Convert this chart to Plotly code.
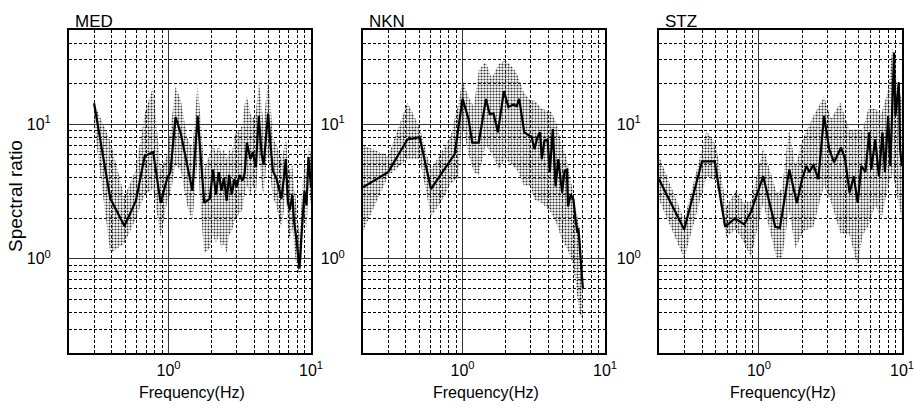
import plotly.graph_objects as go

# ---------------- data ----------------
station_names = ["MED", "NKN", "STZ"]

# MED
med_f = [0.30, 0.39, 0.49, 0.59, 0.68, 0.78, 0.88, 0.98, 1.03, 1.12, 1.22, 1.35, 1.47, 1.60, 1.70,
         1.78, 1.95, 2.05, 2.15, 2.25, 2.35, 2.45, 2.56, 2.66, 2.78, 2.90, 3.00, 3.15, 3.30, 3.42,
         3.55, 3.75, 3.90, 4.10, 4.30, 4.50, 4.65, 4.85, 5.00, 5.20, 5.40, 5.70, 6.00, 6.20, 6.45,
         6.65, 6.90, 7.10, 7.40, 7.60, 7.90, 8.10, 8.30, 8.50, 8.70, 9.00, 9.30, 9.60, 10.0]
med_mean = [14.3, 2.8, 1.75, 2.7, 5.8, 6.2, 2.6, 4.0, 4.4, 11.3, 8.5, 5.0, 3.2, 11.5, 5.0,
            2.6, 2.8, 4.6, 3.0, 4.4, 3.2, 4.0, 2.7, 4.2, 3.0, 3.9, 3.4, 4.2, 3.8, 4.3,
            7.3, 5.5, 6.2, 4.8, 11.5, 6.0, 5.0, 9.0, 12.0, 7.0, 4.5, 4.0, 3.2, 2.8, 4.0,
            5.5, 2.6, 2.3, 3.0, 1.9, 1.4, 1.1, 0.85, 1.3, 2.0, 3.2, 2.5, 5.7, 3.4]
med_hi = [14.3, 7.5, 2.9, 4.6, 12.0, 19.0, 4.6, 6.0, 9.0, 19.0, 15.0, 8.0, 6.5, 20.0, 9.0,
          4.6, 6.0, 7.3, 6.0, 7.0, 6.0, 6.5, 5.5, 6.5, 6.0, 8.0, 9.0, 9.0, 10.0, 14.0,
          16.0, 12.0, 11.0, 12.0, 21.0, 14.0, 10.0, 16.0, 22.0, 14.0, 8.0, 7.0, 6.0, 5.5, 6.5,
          8.0, 5.0, 4.5, 5.0, 3.5, 2.5, 2.0, 1.5, 2.2, 3.5, 5.0, 4.5, 7.0, 6.0]
med_lo = [10.0, 1.1, 1.3, 2.0, 3.0, 3.3, 1.45, 2.7, 3.0, 5.0, 4.5, 2.5, 1.9, 5.5, 2.0,
          1.1, 1.2, 1.5, 1.3, 1.5, 1.2, 1.3, 1.1, 1.5, 1.6, 1.9, 2.0, 2.2, 2.3, 3.0,
          3.5, 3.0, 3.5, 3.0, 6.0, 3.5, 3.0, 5.0, 6.0, 4.0, 2.8, 2.5, 2.0, 1.7, 2.3,
          3.5, 1.6, 1.4, 1.7, 1.2, 0.9, 0.8, 0.75, 0.9, 1.3, 2.0, 1.6, 3.5, 2.5]

# NKN
nkn_f = [0.20, 0.30, 0.41, 0.50, 0.60, 0.88, 1.00, 1.10, 1.17, 1.30, 1.46, 1.55, 1.65, 1.77,
         1.95, 2.10, 2.27, 2.40, 2.50, 2.71, 2.90, 3.05, 3.20, 3.35, 3.50, 3.60, 3.75, 3.95,
         4.10, 4.30, 4.50, 4.70, 5.00, 5.20, 5.40, 5.50, 5.75, 6.00, 6.20, 6.40, 6.50, 6.70,
         6.85, 7.00]
nkn_mean = [3.4, 4.4, 7.7, 8.0, 3.3, 6.0, 15.4, 11.0, 7.3, 7.3, 15.4, 11.9, 12.0, 8.7,
            17.6, 13.4, 14.0, 13.6, 15.4, 8.7, 8.3, 8.1, 6.5, 8.0, 8.7, 5.5, 7.5, 7.7,
            4.4, 9.2, 3.45, 5.5, 3.1, 4.5, 4.6, 2.45, 3.0, 2.75, 2.0, 1.56, 1.7, 1.0,
            0.8, 0.6]
nkn_band_f = [0.20, 0.30, 0.41, 0.50, 0.60, 0.70, 0.82, 0.93, 1.00, 1.10, 1.20, 1.30, 1.45,
              1.60, 1.80, 2.00, 2.20, 2.40, 2.70, 3.00, 3.20, 3.60, 4.20, 4.60, 4.90, 5.40,
              5.80, 6.20, 6.60, 7.00]
nkn_hi = [7.0, 5.8, 14.5, 9.5, 4.6, 6.0, 8.0, 14.0, 21.0, 16.0, 13.6, 25.0, 29.0,
          22.0, 28.0, 30.0, 27.0, 24.0, 17.0, 15.0, 15.0, 13.0, 12.3, 10.0, 7.3, 5.5,
          3.7, 2.6, 1.73, 0.9]
nkn_lo = [1.6, 4.1, 5.5, 5.5, 2.06, 2.6, 3.6, 4.0, 9.7, 6.0, 4.4, 4.2, 7.0,
          6.0, 4.6, 5.5, 5.0, 4.6, 3.5, 3.5, 2.75, 2.6, 2.2, 1.8, 1.46, 1.2,
          1.0, 0.7, 0.4, 0.35]

# STZ
stz_f = [0.20, 0.30, 0.40, 0.49, 0.58, 0.68, 0.79, 0.88, 1.07, 1.30, 1.40, 1.63, 1.84, 2.00,
         2.15, 2.25, 2.40, 2.60, 2.85, 3.10, 3.35, 3.60, 3.75, 4.00, 4.30, 4.60, 4.90, 5.20,
         5.55, 5.90, 6.10, 6.50, 6.90, 7.30, 7.60, 8.00, 8.30, 8.80, 9.00, 9.50, 9.70, 10.0]
stz_mean = [3.9, 1.65, 5.3, 5.3, 1.73, 2.0, 1.8, 2.24, 4.1, 1.73, 1.7, 4.6, 2.6, 3.9,
            4.9, 4.4, 5.0, 3.9, 11.5, 6.5, 5.2, 6.2, 6.7, 5.5, 3.1, 4.1, 2.6, 4.9,
            4.4, 8.7, 4.6, 7.7, 4.1, 8.7, 4.4, 11.5, 4.9, 34.0, 11.5, 20.5, 6.5, 4.9]
stz_band_f = [0.20, 0.30, 0.43, 0.50, 0.59, 0.69, 0.79, 0.88, 1.07, 1.33, 1.45, 1.62, 1.80,
              2.05, 2.40, 2.85, 3.20, 3.70, 4.30, 4.90, 5.30, 5.80, 6.50, 7.20, 8.00, 8.60,
              9.20, 10.0]
stz_hi = [5.8, 1.95, 8.9, 7.0, 2.45, 3.2, 2.6, 2.7, 6.7, 3.1, 3.3, 9.2, 5.0,
          8.0, 11.5, 16.0, 11.0, 14.5, 9.0, 9.2, 9.0, 12.9, 13.0, 12.0, 18.0, 38.0,
          20.0, 15.0]
stz_lo = [2.75, 1.0, 4.1, 3.8, 1.46, 1.65, 1.3, 1.03, 2.6, 1.0, 1.0, 2.3, 1.2,
          1.6, 1.73, 3.5, 2.6, 1.56, 1.5, 0.87, 1.5, 1.73, 2.5, 2.0, 3.5, 4.4,
          3.0, 1.95]

x_tick_vals = [1, 10]
x_tick_text = ["10<sup>0</sup>", "10<sup>1</sup>"]
y_tick_vals = [1, 10]
y_tick_text = ["10<sup>0</sup>", "10<sup>1</sup>"]
x_minor_vals = [0.3, 0.4, 0.5, 0.6, 0.7, 0.8, 0.9, 2, 3, 4, 5, 6, 7, 8, 9]
y_minor_vals = [0.3, 0.4, 0.5, 0.6, 0.7, 0.8, 0.9, 2, 3, 4, 5, 6, 7, 8, 9, 20, 30, 40]

panels = [
    (med_f, med_mean, med_f, med_hi, med_lo),
    (nkn_f, nkn_mean, nkn_band_f, nkn_hi, nkn_lo),
    (stz_f, stz_mean, stz_band_f, stz_hi, stz_lo),
]

# ---------------- figure ----------------
W, H = 914, 408
x_domains_px = [(69, 311), (363, 605), (659, 902)]
y_top_px, y_bot_px = 30, 353
y_dom = [(H - y_bot_px) / H, (H - y_top_px) / H]

FONT = "Liberation Sans, Arial, Helvetica, sans-serif"

fig = go.Figure()

for i, (f, mean, bf, hi, lo) in enumerate(panels):
    xa = "x" if i == 0 else f"x{i+1}"
    ya = "y" if i == 0 else f"y{i+1}"
    fig.add_trace(go.Scatter(x=bf, y=lo, mode="lines", line=dict(width=0, color="rgba(0,0,0,0)"),
                             xaxis=xa, yaxis=ya, showlegend=False, hoverinfo="skip"))
    fig.add_trace(go.Scatter(x=bf, y=hi, mode="lines", line=dict(width=0, color="rgba(0,0,0,0)"),
                             fill="tonexty", fillcolor="rgba(0,0,0,0)",
                             fillpattern=dict(shape=".", fgcolor="#333333", bgcolor="rgba(255,255,255,0)",
                                              size=3, solidity=0.4),
                             xaxis=xa, yaxis=ya, showlegend=False, hoverinfo="skip"))
    fig.add_trace(go.Scatter(x=f, y=mean, mode="lines", line=dict(width=2.2, color="black"),
                             xaxis=xa, yaxis=ya, showlegend=False))

    x0, x1 = x_domains_px[i]
    axis_common = dict(type="log", showline=True, mirror=True, linewidth=2, linecolor="black",
                       showgrid=True, gridcolor="#333333", gridwidth=1, zeroline=False,
                       tickmode="array", ticks="outside", tickcolor="rgba(0,0,0,0)",
                       ticklabeloverflow="allow",
                       tickfont=dict(family=FONT, size=16, color="black"), automargin=False)
    xkey = "xaxis" if i == 0 else f"xaxis{i+1}"
    ykey = "yaxis" if i == 0 else f"yaxis{i+1}"
    fig.update_layout({
        xkey: dict(axis_common, domain=[x0 / W, x1 / W], anchor=ya, ticklen=2,
                   range=[-0.69897, 1.0], tickvals=x_tick_vals, ticktext=x_tick_text,
                   minor=dict(tickmode="array", tickvals=x_minor_vals, showgrid=True,
                              gridcolor="black", gridwidth=1, griddash="3px,2px", ticks="")),
        ykey: dict(axis_common, domain=y_dom, anchor=xa, ticklen=13,
                   range=[-0.69897, 1.69897], tickvals=y_tick_vals, ticktext=y_tick_text,
                   minor=dict(tickmode="array", tickvals=y_minor_vals, showgrid=True,
                              gridcolor="black", gridwidth=1, griddash="3px,2px", ticks="")),
    })
    # station title
    fig.add_annotation(text=station_names[i], xref="paper", yref="paper",
                       x=(x0 + 4) / W, y=(H - 21) / H, xanchor="left", yanchor="middle",
                       showarrow=False, font=dict(family=FONT, size=17, color="black"))
    # x-axis title
    fig.add_annotation(text="Frequency(Hz)", xref="paper", yref="paper",
                       x=((x0 + x1) / 2 + 2) / W, y=(H - 392) / H, xanchor="center", yanchor="middle",
                       showarrow=False, font=dict(family=FONT, size=16, color="black"))

fig.add_annotation(text="Spectral ratio", xref="paper", yref="paper",
                   x=16 / W, y=(H - 196) / H, xanchor="center", yanchor="middle", textangle=-90,
                   showarrow=False, font=dict(family=FONT, size=19, color="black"))

fig.update_layout(width=W, height=H, margin=dict(l=0, r=0, t=0, b=0),
                  paper_bgcolor="white", plot_bgcolor="white", template="none",
                  showlegend=False)

fig.write_html("out.html")
